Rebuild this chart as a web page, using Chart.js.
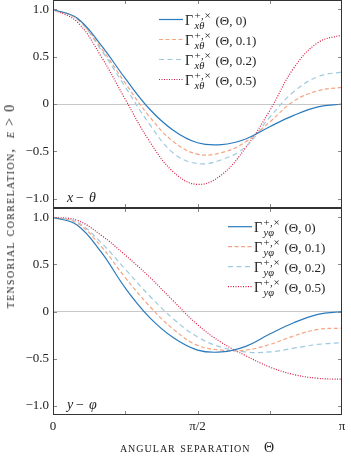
<!DOCTYPE html>
<html>
<head>
<meta charset="utf-8">
<script src="https://cdn.jsdelivr.net/npm/chart.js@4.4.0/dist/chart.umd.min.js"></script>
<style>
  html, body { margin: 0; padding: 0; background: #fff; }
  #wrap { position: relative; width: 351px; height: 467px; overflow: hidden; font-family: "Liberation Serif", serif; color: #222; }
  canvas { position: absolute; left: 0; }
  #cTop { top: 0; }
  #cBot { top: 208px; }
  .title { position: absolute; font-variant: small-caps; font-size: 14px; white-space: nowrap; letter-spacing: 1px; }
  #yTitle { left: 10px; top: 206px; letter-spacing: 1.3px; transform: translate(-50%, -50%) rotate(-90deg); }
  #xTitle { left: 197.5px; top: 448px; transform: translate(-50%, -50%); }
</style>
</head>
<body>
<div id="wrap">
  <canvas id="cTop" width="351" height="209"></canvas>
  <canvas id="cBot" width="351" height="259"></canvas>
  <div class="title" id="yTitle">tensorial correlation,&nbsp;&nbsp;<i>ε</i> &gt; 0</div>
  <div class="title" id="xTitle">angular separation&nbsp;&nbsp;&nbsp;Θ</div>
</div>
<script>
// angle in units of pi
const theta = [0, 0.083, 0.167, 0.25, 0.333, 0.417, 0.5, 0.583, 0.667, 0.75, 0.833, 0.917, 1];
const epsLabels = ['0', '0.1', '0.2', '0.5'];

// x - theta panel
const xthEps0  = [1.0, 0.91, 0.62, 0.27, -0.05, -0.28, -0.41, -0.43, -0.37, -0.24, -0.12, -0.03, 0.0];
const xthEps01 = [1.0, 0.90, 0.59, 0.22, -0.13, -0.40, -0.53, -0.515, -0.40, -0.19, 0.03, 0.14, 0.177];
const xthEps02 = [1.0, 0.90, 0.57, 0.18, -0.21, -0.52, -0.63, -0.59, -0.45, -0.14, 0.13, 0.29, 0.34];
const xthEps05 = [1.0, 0.87, 0.50, 0.05, -0.39, -0.72, -0.85, -0.75, -0.46, -0.07, 0.38, 0.65, 0.73];

// y - phi panel
const yphEps0  = [1.0, 0.92, 0.63, 0.25, -0.06, -0.28, -0.41, -0.43, -0.37, -0.24, -0.12, -0.03, 0.0];
const yphEps01 = [1.0, 0.94, 0.69, 0.36, 0.06, -0.19, -0.36, -0.41, -0.41, -0.35, -0.26, -0.19, -0.177];
const yphEps02 = [1.0, 0.95, 0.73, 0.45, 0.17, -0.08, -0.27, -0.38, -0.43, -0.43, -0.39, -0.35, -0.33];
const yphEps05 = [1.0, 0.97, 0.81, 0.60, 0.37, 0.11, -0.14, -0.33, -0.47, -0.59, -0.67, -0.71, -0.72];

const yTickVals = [-1, -0.5, 0, 0.5, 1];
const yTickText = ['\u22121.0', '\u22120.5', '0', '0.5', '1.0'];
const xTickVals = [0, 0.5, 1];
const xTickText = ['0', '\u03c0/2', '\u03c0'];
const xMinorVals = [0.25, 0.5, 0.75];

const FONT = '"Liberation Serif", serif';
const styles = [
    { color: '#2a7bbd', dash: [] },
    { color: '#f4a582', dash: [4, 2.5] },
    { color: '#9ecae1', dash: [5, 3.5] },
    { color: '#d7193f', dash: [1, 1.5] }
];

function makeDatasets(series) {
    return series.map((s, i) => ({
        data: theta.map((t, k) => ({ x: t, y: s[k] })),
        borderColor: styles[i].color,
        borderDash: styles[i].dash,
        borderWidth: 1.2,
        pointRadius: 0,
        fill: false,
        tension: 0.4
    }));
}

function line(ctx, x1, y1, x2, y2) {
    ctx.beginPath();
    ctx.moveTo(x1, y1);
    ctx.lineTo(x2, y2);
    ctx.stroke();
}

// frame, inward ticks, legend and panel label
const panelPlugin = {
    id: 'panel',
    afterDraw(chart, args, o) {
        const ctx = chart.ctx;
        const { left, right, top, bottom } = chart.chartArea;
        const xs = chart.scales.x, ys = chart.scales.y;
        ctx.save();

        ctx.strokeStyle = '#888';
        ctx.lineWidth = 1;
        yTickVals.forEach(v => {
            const y = Math.round(ys.getPixelForValue(v)) + 0.5;
            line(ctx, left, y, left + 4, y);
            line(ctx, right - 4, y, right, y);
        });
        xMinorVals.forEach(v => {
            const x = Math.round(xs.getPixelForValue(v)) + 0.5;
            line(ctx, x, top, x, top + 4);
            line(ctx, x, bottom - 4, x, bottom);
        });

        ctx.strokeStyle = '#333';
        ctx.strokeRect(left + 0.5, top + 0.5, right - left - 1, bottom - top - 1);

        // legend
        chart.data.datasets.forEach((ds, i) => {
            const y = o.legendY + i * 20;
            ctx.strokeStyle = ds.borderColor;
            ctx.lineWidth = 1.2;
            ctx.setLineDash(ds.borderDash);
            line(ctx, o.legendX, y, o.legendX + 24, y);
            ctx.setLineDash([]);

            const x0 = o.legendX + 26, base = y + 5.5;
            ctx.fillStyle = '#222';
            ctx.textAlign = 'left';
            ctx.textBaseline = 'alphabetic';
            ctx.font = '14px ' + FONT;
            ctx.fillText('\u0393', x0, base);
            ctx.font = '11px ' + FONT;
            ctx.fillText('+', x0 + 9.5, base - 6);
            ctx.fillText(',', x0 + 16, base - 6);
            ctx.fillText('\u00d7', x0 + 19.5, base - 6);
            ctx.font = 'italic 10.5px ' + FONT;
            ctx.fillText(o.sub, x0 + 9.5, base + 3.5);
            ctx.font = '13px ' + FONT;
            ctx.fillText('(\u0398, ' + epsLabels[i] + ')', x0 + 30.5, base);
        });

        // panel label
        ctx.fillStyle = '#222';
        ctx.font = 'italic 14px ' + FONT;
        ctx.fillText(o.label[0], 67, o.labelY);
        ctx.font = '14px ' + FONT;
        ctx.fillText('\u2212', 76, o.labelY);
        ctx.font = 'italic 14px ' + FONT;
        ctx.fillText(o.label[1], 89, o.labelY);
        ctx.restore();
    }
};

function makeOptions(showX, panel) {
    return {
        responsive: false,
        animation: false,
        devicePixelRatio: 1,
        events: [],
        layout: { padding: { left: 0, right: 9, top: 0, bottom: showX ? 0 : 1 } },
        plugins: { legend: { display: false }, tooltip: { enabled: false }, panel: panel },
        scales: {
            x: {
                type: 'linear',
                min: 0,
                max: 1,
                display: showX,
                afterBuildTicks: s => { s.ticks = xTickVals.map(v => ({ value: v })); },
                afterFit: s => { s.height = showX ? 52 : 0; s.paddingLeft = 0; s.paddingRight = 0; },
                grid: { display: false, drawTicks: false },
                border: { display: false },
                ticks: {
                    font: { family: FONT, size: 13 },
                    color: '#222',
                    padding: 4,
                    maxRotation: 0,
                    autoSkip: false,
                    callback: v => xTickText[xTickVals.indexOf(v)]
                }
            },
            y: {
                min: -1.1,
                max: 1.1,
                afterBuildTicks: s => { s.ticks = yTickVals.map(v => ({ value: v })); },
                afterFit: s => { s.width = 53; s.paddingTop = 0; s.paddingBottom = 0; },
                grid: {
                    drawTicks: false,
                    color: c => (c.tick && c.tick.value === 0) ? '#c8c8c8' : 'rgba(0,0,0,0)'
                },
                border: { display: false },
                ticks: {
                    font: { family: FONT, size: 13 },
                    color: '#222',
                    padding: 4,
                    callback: v => yTickText[yTickVals.indexOf(v)]
                }
            }
        }
    };
}

new Chart(document.getElementById('cTop'), {
    type: 'line',
    data: { datasets: makeDatasets([xthEps0, xthEps01, xthEps02, xthEps05]) },
    options: makeOptions(false, { legendX: 159, legendY: 19.5, sub: 'x\u03b8', label: ['x', '\u03b8'], labelY: 202 }),
    plugins: [panelPlugin]
});

new Chart(document.getElementById('cBot'), {
    type: 'line',
    data: { datasets: makeDatasets([yphEps0, yphEps01, yphEps02, yphEps05]) },
    options: makeOptions(true, { legendX: 228, legendY: 18.7, sub: 'y\u03c6', label: ['y', '\u03c6'], labelY: 201 }),
    plugins: [panelPlugin]
});
</script>
</body>
</html>
